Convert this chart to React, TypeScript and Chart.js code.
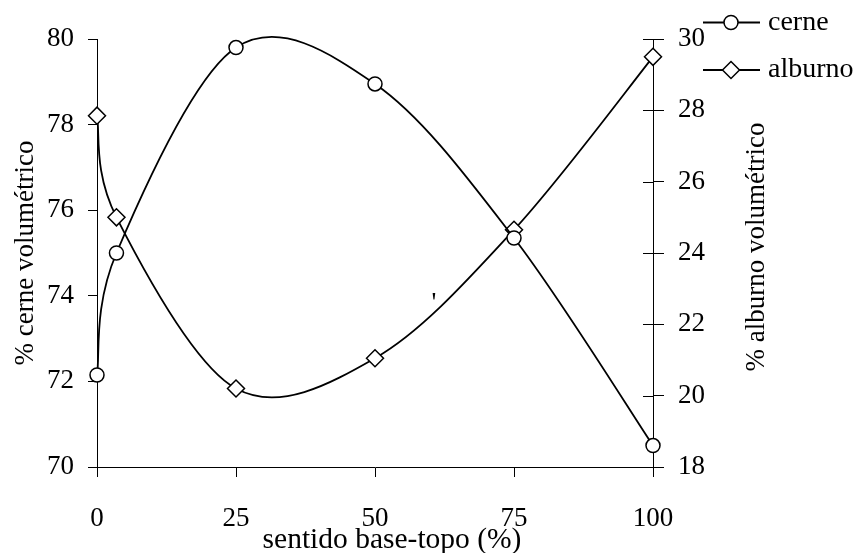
import React, { useEffect, useRef } from "react";
import { Chart, registerables } from "chart.js";

Chart.register(...registerables);

// ---- data ----
const positions = [0, 3.5, 25, 50, 75, 100];
const cerne = [72.15, 75.0, 79.8, 78.95, 75.35, 70.5];
const alburno = [27.85, 25.0, 20.2, 21.05, 24.65, 29.5];
const xTickValues = [0, 25, 50, 75, 100];
const leftTickValues = [70, 72, 74, 76, 78, 80];
const rightTickValues = [18, 20, 22, 24, 26, 28, 30];
const seriesNames = ["cerne", "alburno"];
const xTitle = "sentido base-topo (%)";
const leftTitle = "% cerne volumétrico";
const rightTitle = "% alburno volumétrico";
const strayMark = { x: 60.6, y: 73.65, text: "'" };

const FONT = '"Liberation Serif", "Times New Roman", serif';

function drawCircle(ctx: CanvasRenderingContext2D, x: number, y: number, r: number) {
  ctx.beginPath();
  ctx.arc(x, y, r, 0, Math.PI * 2);
  ctx.fillStyle = "#fff";
  ctx.fill();
  ctx.stroke();
}
function drawDiamond(ctx: CanvasRenderingContext2D, x: number, y: number, r: number) {
  ctx.beginPath();
  ctx.moveTo(x, y - r);
  ctx.lineTo(x + r, y);
  ctx.lineTo(x, y + r);
  ctx.lineTo(x - r, y);
  ctx.closePath();
  ctx.fillStyle = "#fff";
  ctx.fill();
  ctx.stroke();
}

// Spreadsheet-style smoothing: uniform Catmull-Rom control points (1/6 of neighbour span)
const smoothPlugin = {
  id: "smooth",
  beforeDatasetsDraw(chart: any) {
    chart.data.datasets.forEach((_d: any, di: number) => {
      const meta = chart.getDatasetMeta(di);
      const pts = meta.data;
      for (let i = 0; i < pts.length; i++) {
        const cur = pts[i];
        const prev = pts[i - 1] || cur;
        const next = pts[i + 1] || cur;
        const dx = (next.x - prev.x) / 6;
        const dy = (next.y - prev.y) / 6;
        cur.cp1x = cur.x - dx;
        cur.cp1y = cur.y - dy;
        cur.cp2x = cur.x + dx;
        cur.cp2y = cur.y + dy;
      }
      if (meta.dataset) {
        meta.dataset._pointsUpdated = true;
        meta.dataset._path = undefined;
      }
    });
  },
};

const extrasPlugin = {
  id: "extras",
  afterDraw(chart: any) {
    const ctx: CanvasRenderingContext2D = chart.ctx;
    const area = chart.chartArea;
    const r = chart.scales.y1;
    const yl = chart.scales.y;
    const xs = chart.scales.x;
    ctx.save();
    // inner half of crossing ticks on the right axis
    ctx.strokeStyle = "#000";
    ctx.lineWidth = 1;
    r.ticks.forEach((_t: any, i: number) => {
      const y = Math.round(r.getPixelForTick(i)) + 0.5;
      ctx.beginPath();
      ctx.moveTo(r.left - 10, y);
      ctx.lineTo(r.left, y);
      ctx.stroke();
    });
    // right axis title (reads bottom to top)
    ctx.fillStyle = "#000";
    ctx.font = `27px ${FONT}`;
    ctx.textAlign = "center";
    ctx.textBaseline = "middle";
    ctx.save();
    ctx.translate(757, (area.top + area.bottom) / 2 - 6);
    ctx.rotate(-Math.PI / 2);
    ctx.fillText(rightTitle, 0, 0);
    ctx.restore();
    // x axis title (slightly right of centre, overlapping the tick labels as in the original)
    ctx.font = `29.5px ${FONT}`;
    ctx.fillText(xTitle, (area.left + area.right) / 2 + 17, 540);
    // stray mark
    ctx.font = `27px ${FONT}`;
    ctx.textBaseline = "alphabetic";
    ctx.fillText(strayMark.text, xs.getPixelForValue(strayMark.x), yl.getPixelForValue(strayMark.y));
    // legend
    ctx.font = `28px ${FONT}`;
    const rows = [22.5, 70];
    ctx.lineWidth = 1.8;
    rows.forEach((ly, i) => {
      ctx.beginPath();
      ctx.moveTo(703, ly);
      ctx.lineTo(760, ly);
      ctx.stroke();
      ctx.lineWidth = 1.5;
      if (i === 0) drawCircle(ctx, 731, ly, 7);
      else drawDiamond(ctx, 731, ly, 8.5);
      ctx.lineWidth = 1.8;
      ctx.fillStyle = "#000";
      ctx.textAlign = "left";
      ctx.textBaseline = "middle";
      ctx.fillText(seriesNames[i], 768, ly);
    });
    ctx.restore();
  },
};

export default function App() {
  const ref = useRef<HTMLCanvasElement | null>(null);
  useEffect(() => {
    if (!ref.current) return;
    const tickFont = { family: FONT, size: 27 };
    const chart = new Chart(ref.current, {
      type: "line",
      data: {
        datasets: [
          {
            label: seriesNames[0],
            data: positions.map((x, i) => ({ x, y: cerne[i] })),
            yAxisID: "y",
            borderColor: "#000",
            borderWidth: 1.8,
            pointStyle: "circle",
            pointRadius: 7,
            pointBackgroundColor: "#fff",
            pointBorderColor: "#000",
            pointBorderWidth: 1.5,
            tension: 0.4,
            fill: false,
            clip: false as any,
          },
          {
            label: seriesNames[1],
            data: positions.map((x, i) => ({ x, y: alburno[i] })),
            yAxisID: "y1",
            borderColor: "#000",
            borderWidth: 1.8,
            pointStyle: "rectRot",
            pointRadius: 8.5,
            pointBackgroundColor: "#fff",
            pointBorderColor: "#000",
            pointBorderWidth: 1.5,
            tension: 0.4,
            fill: false,
            clip: false as any,
          },
        ],
      },
      options: {
        responsive: false,
        animation: false,
        events: [],
        layout: { padding: { top: 39, left: 0, right: 0, bottom: 0 } },
        elements: { line: { capBezierPoints: false } },
        plugins: { legend: { display: false }, tooltip: { enabled: false }, title: { display: false } },
        scales: {
          x: {
            type: "linear",
            min: 0,
            max: 100,
            afterBuildTicks: (s: any) => {
              s.ticks = xTickValues.map((v) => ({ value: v }));
            },
            ticks: { color: "#000", font: tickFont, padding: 26, maxRotation: 0 },
            grid: { drawOnChartArea: false, drawTicks: true, tickLength: 10, color: "#000", lineWidth: 1 },
            border: { display: true, color: "#000", width: 1 },
            title: { display: false },
            afterFit: (s: any) => {
              s.height = 86;
            },
          },
          y: {
            type: "linear",
            position: "left",
            min: 70,
            max: 80,
            afterBuildTicks: (s: any) => {
              s.ticks = leftTickValues.map((v) => ({ value: v }));
            },
            ticks: { color: "#000", font: tickFont, padding: 14 },
            grid: { drawOnChartArea: false, drawTicks: true, tickLength: 9, color: "#000", lineWidth: 1 },
            border: { display: true, color: "#000", width: 1 },
            title: { display: true, text: leftTitle, color: "#000", font: { family: FONT, size: 27 }, padding: { top: 10, bottom: 0 } },
            afterFit: (s: any) => {
              s.width = 97;
            },
          },
          y1: {
            type: "linear",
            position: "right",
            min: 18,
            max: 30,
            afterBuildTicks: (s: any) => {
              s.ticks = rightTickValues.map((v) => ({ value: v }));
            },
            ticks: { color: "#000", font: tickFont, padding: 14 },
            grid: { drawOnChartArea: false, drawTicks: true, tickLength: 11, color: "#000", lineWidth: 1 },
            border: { display: true, color: "#000", width: 1 },
            title: { display: false },
            afterFit: (s: any) => {
              s.width = 202;
            },
          },
        },
      } as any,
      plugins: [smoothPlugin, extrasPlugin],
    });
    return () => chart.destroy();
  }, []);
  return (
    <div style={{ position: "absolute", left: 0, top: 0, width: 855, height: 553, background: "#fff" }}>
      <canvas ref={ref} width={855} height={553} style={{ display: "block" }} />
    </div>
  );
}
